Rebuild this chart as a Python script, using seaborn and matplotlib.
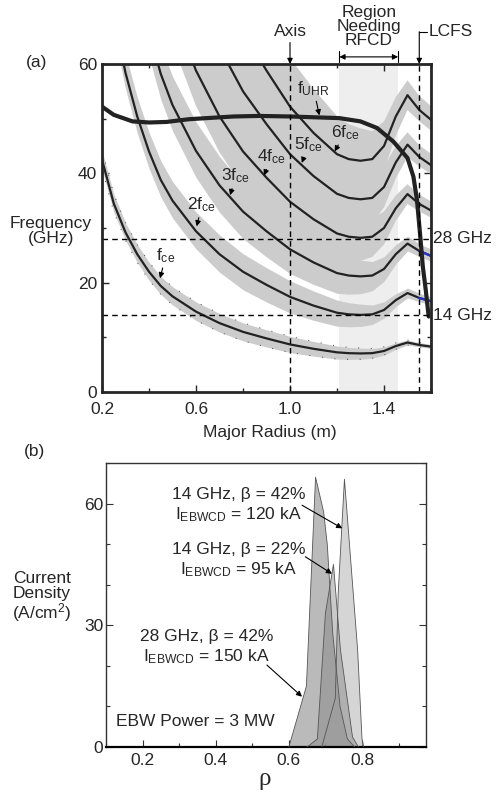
import matplotlib
matplotlib.use("Agg")
import matplotlib.pyplot as plt
import seaborn as sns
import numpy as np
import pandas as pd
from matplotlib.ticker import MultipleLocator

# ---- panel (a) data: cyclotron harmonics and upper hybrid frequency ----
major_radius = [0.2, 0.25, 0.3, 0.35, 0.4, 0.45, 0.5, 0.6, 0.7, 0.8, 0.9,
                1.0, 1.1, 1.2, 1.25, 1.3, 1.35, 1.4, 1.45, 1.5, 1.55, 1.6]
f_ce = [42.5, 34.5, 29.2, 25.2, 22.0, 19.4, 17.5, 14.7, 12.6, 11.0, 9.8,
        8.7, 7.9, 7.25, 7.1, 7.05, 7.1, 7.5, 8.4, 9.05, 8.6, 8.3]
# relative spread of the shaded bands around each harmonic
band_lo = [0.96, 0.955, 0.95, 0.94, 0.93, 0.92, 0.91, 0.89, 0.87, 0.85, 0.84,
           0.83, 0.83, 0.83, 0.84, 0.85, 0.87, 0.90, 0.93, 0.95, 0.96, 0.96]
band_hi = [1.04, 1.05, 1.06, 1.07, 1.08, 1.09, 1.10, 1.12, 1.14, 1.15, 1.16,
           1.17, 1.17, 1.16, 1.15, 1.14, 1.12, 1.10, 1.07, 1.05, 1.05, 1.05]
harmonics = [1, 2, 3, 4, 5, 6]

uhr_radius = [0.2, 0.25, 0.33, 0.4, 0.475, 0.57, 0.76, 0.87, 1.0, 1.21, 1.3,
              1.37, 1.44, 1.5, 1.525, 1.54, 1.553, 1.565, 1.578, 1.59]
f_uhr = [52.2, 50.7, 49.5, 49.3, 49.4, 49.9, 50.4, 50.5, 50.4, 50.1, 49.5,
         48.3, 45.8, 42.8, 39.4, 35.2, 29.1, 23.0, 18.5, 13.8]

axis_r = 1.0
lcfs_r = 1.55
rfcd_region = [1.21, 1.46]
source_freqs = [28, 14]

# ---- panel (b) data: EBW driven current density profiles ----
rho_28_42 = [0.60, 0.648, 0.673, 0.695, 0.705, 0.72, 0.74, 0.76, 0.78]
j_28_42 = [0, 15, 66.5, 58, 50, 28, 10, 2, 0]
rho_14_22 = [0.65, 0.678, 0.70, 0.722, 0.741, 0.774, 0.79]
j_14_22 = [0, 2, 33, 45, 24, 2.5, 0]
rho_14_42 = [0.69, 0.727, 0.735, 0.752, 0.788, 0.80, 0.805]
j_14_42 = [0, 12, 38, 66, 24, 2, 0]

FS = 12.5

sns.set_style("ticks")
plt.rcParams['font.family'] = ['Liberation Sans', 'DejaVu Sans']
plt.rcParams['mathtext.fontset'] = 'custom'
plt.rcParams['mathtext.rm'] = 'Liberation Sans'
plt.rcParams['mathtext.it'] = 'Liberation Sans:italic'
plt.rcParams['font.size'] = FS

fig = plt.figure(figsize=(4.98, 7.93), dpi=100)
ax1 = fig.add_axes([0.2048, 0.5057, 0.6607, 0.4136])
ax2 = fig.add_axes([0.2129, 0.0580, 0.6425, 0.3581])

R = np.array(major_radius)
fce = np.array(f_ce)
lo = np.array(band_lo)
hi = np.array(band_hi)

# region needing RFCD
ax1.axvspan(rfcd_region[0], rfcd_region[1], color='#eeeeee', lw=0, zorder=0)

# shaded bands
for n in harmonics:
    ax1.fill_between(R, n * fce * lo, n * fce * hi, color='#cccccc', lw=0, zorder=1)

# sparse dotted edges on the fundamental band
ax1.plot(R, fce * lo, color='#444444', lw=0.7, ls=(0, (1, 12)), zorder=2)
ax1.plot(R, fce * hi, color='#444444', lw=0.7, ls=(0, (1, 12)), zorder=2)

# harmonic lines
harm_df = pd.DataFrame({
    'R': np.tile(R, len(harmonics)),
    'f': np.concatenate([n * fce for n in harmonics]),
    'n': np.repeat(harmonics, len(R)),
})
sns.lineplot(data=harm_df, x='R', y='f', units='n', estimator=None,
             color='#222222', lw=1.6, ax=ax1, zorder=4, sort=False)

# blue marks outside the LCFS
outside = R >= lcfs_r
for n in [2, 3]:
    ax1.plot(R[outside], n * fce[outside], color='#2233cc', lw=1.6, zorder=5)

# upper hybrid
sns.lineplot(x=uhr_radius, y=f_uhr, color='#222222', lw=3.0, ax=ax1,
             zorder=6, sort=False)

# reference dashed lines
for f in source_freqs:
    ax1.axhline(f, color='k', lw=1.0, ls=(0, (4, 3)), zorder=7)
for r in [axis_r, lcfs_r]:
    ax1.axvline(r, color='k', lw=1.0, ls=(0, (4, 3)), zorder=7)

ax1.set_xlim(0.2, 1.6)
ax1.set_ylim(0, 60)
ax1.xaxis.set_minor_locator(MultipleLocator(0.2))
ax1.yaxis.set_major_locator(MultipleLocator(20))
ax1.yaxis.set_minor_locator(MultipleLocator(10))
ax1.set_xticks([0.2, 0.6, 1.0, 1.4])
ax1.set_xticklabels(['0.2', '0.6', '1.0', '1.4'])
ax1.tick_params(which='both', direction='in', top=True, right=True, labelsize=FS)
ax1.tick_params(which='major', length=5, width=1)
ax1.tick_params(which='minor', length=3, width=1)
ax1.tick_params(axis='x', pad=7)
for s in ax1.spines.values():
    s.set_linewidth(2.0)
    s.set_zorder(10)
ax1.set_xlabel('')
ax1.set_ylabel('')

arrow_kw = dict(arrowstyle='-|>', color='k', lw=0.8, mutation_scale=8,
                shrinkA=0, shrinkB=0)
labels_a = [
    (r'f$_{\rm UHR}$', (1.10, 55.5), (1.125, 50.6)),
    (r'6f$_{\rm ce}$', (1.235, 47.5), (1.19, 44.0)),
    (r'5f$_{\rm ce}$', (1.08, 45.2), (1.05, 41.9)),
    (r'4f$_{\rm ce}$', (0.92, 43.0), (0.89, 39.6)),
    (r'3f$_{\rm ce}$', (0.77, 39.5), (0.745, 36.0)),
    (r'2f$_{\rm ce}$', (0.625, 34.2), (0.603, 30.3)),
    (r'f$_{\rm ce}$', (0.472, 25.0), (0.447, 20.8)),
]
for txt, xytext, xy in labels_a:
    ax1.annotate(txt, xy=xy, xytext=xytext, ha='center', va='center',
                 fontsize=FS, arrowprops=arrow_kw, zorder=8)

ax1.annotate('Axis', xy=(axis_r, 60), xytext=(axis_r, 65.9), ha='center',
             va='center', fontsize=FS, arrowprops=arrow_kw,
             annotation_clip=False)
ax1.annotate('', xy=(lcfs_r, 60), xytext=(lcfs_r, 65.9),
             arrowprops=arrow_kw, annotation_clip=False)
ax1.plot([lcfs_r, 1.585], [65.9, 65.9], color='k', lw=0.8, clip_on=False)
ax1.text(1.59, 65.9, 'LCFS', ha='left', va='center', fontsize=FS)
ax1.text(1.336, 66.8, 'Region\nNeeding\nRFCD', ha='center', va='center',
         fontsize=FS, linespacing=0.92)
ax1.annotate('', xy=(rfcd_region[0], 61.3), xytext=(rfcd_region[1], 61.3),
             arrowprops=dict(arrowstyle='<|-|>', color='k', lw=0.8,
                             mutation_scale=8, shrinkA=0, shrinkB=0),
             annotation_clip=False)
for r in rfcd_region:
    ax1.plot([r, r], [60.4, 62.3], color='k', lw=0.8, clip_on=False)
for f in source_freqs:
    ax1.text(1.608, f, f'{f} GHz', ha='left', va='center', fontsize=FS)
ax1.text(-0.155, 0.492, 'Frequency\n(GHz)', transform=ax1.transAxes,
         ha='center', va='center', fontsize=FS, linespacing=1.0)
ax1.text(0.51, -0.124, 'Major Radius (m)', transform=ax1.transAxes,
         ha='center', va='center', fontsize=FS)
ax1.text(-0.2, 1.004, '(a)', transform=ax1.transAxes, ha='center',
         va='center', fontsize=FS)

# ---- panel (b) ----
profiles = [
    (rho_28_42, j_28_42, '#8c8c8c', 0.6),
    (rho_14_42, j_14_42, '#b4b4b4', 0.55),
    (rho_14_22, j_14_22, '#7a7a7a', 0.4),
]
for x, y, c, a in profiles:
    ax2.fill(x, y, facecolor=c, alpha=a, edgecolor='none', zorder=2)
    ax2.plot(x, y, color='#555555', lw=0.6, zorder=3)

ax2.set_xlim(0.1, 0.975)
ax2.set_ylim(0, 70)
ax2.xaxis.set_minor_locator(MultipleLocator(0.1))
ax2.yaxis.set_major_locator(MultipleLocator(30))
ax2.yaxis.set_minor_locator(MultipleLocator(10))
ax2.set_xticks([0.2, 0.4, 0.6, 0.8])
ax2.set_xticklabels(['0.2', '0.4', '0.6', '0.8'])
ax2.tick_params(which='both', direction='in', top=False, right=True,
                labelsize=FS, color='#333333')
ax2.tick_params(which='major', length=5, width=0.8)
ax2.tick_params(which='minor', length=3, width=0.8)
ax2.tick_params(axis='x', pad=4)
ax2.tick_params(axis='y', pad=2)
for s in ax2.spines.values():
    s.set_linewidth(1.0)
    s.set_color('#333333')
ax2.spines['bottom'].set_linewidth(1.6)
ax2.spines['bottom'].set_color('k')

labels_b = [
    ('14 GHz, β = 42%', r'I$_{\rm EBWCD}$ = 120 kA', (0.462, 62.3), (0.636, 59.6), (0.746, 53.9)),
    ('14 GHz, β = 22%', r'I$_{\rm EBWCD}$ = 95 kA', (0.462, 48.7), (0.645, 46.9), (0.718, 42.7)),
    ('28 GHz, β = 42%', r'I$_{\rm EBWCD}$ = 150 kA', (0.374, 27.3), (0.54, 20.2), (0.636, 12.4)),
]
for l1, l2, (tx, ty), start, tip in labels_b:
    ax2.text(tx, ty, l1, ha='center', va='center', fontsize=FS)
    ax2.text(tx, ty - 5.0, l2, ha='center', va='center', fontsize=FS)
    ax2.annotate('', xy=tip, xytext=start, arrowprops=arrow_kw, zorder=6)

ax2.text(0.344, 6.2, 'EBW Power = 3 MW', ha='center', va='center', fontsize=FS)
ax2.text(-0.2, 0.525, 'Current\nDensity\n(A/cm$^2$)', transform=ax2.transAxes,
         ha='center', va='center', fontsize=FS, linespacing=1.0)
ax2.text(0.497, -0.112, 'ρ', transform=ax2.transAxes, ha='center',
         va='center', fontsize=18, family=['Liberation Serif', 'DejaVu Serif'])
ax2.text(-0.222, 1.039, '(b)', transform=ax2.transAxes, ha='center',
         va='center', fontsize=FS)
ax2.set_xlabel('')
ax2.set_ylabel('')

fig.savefig('out.png', dpi=100)
